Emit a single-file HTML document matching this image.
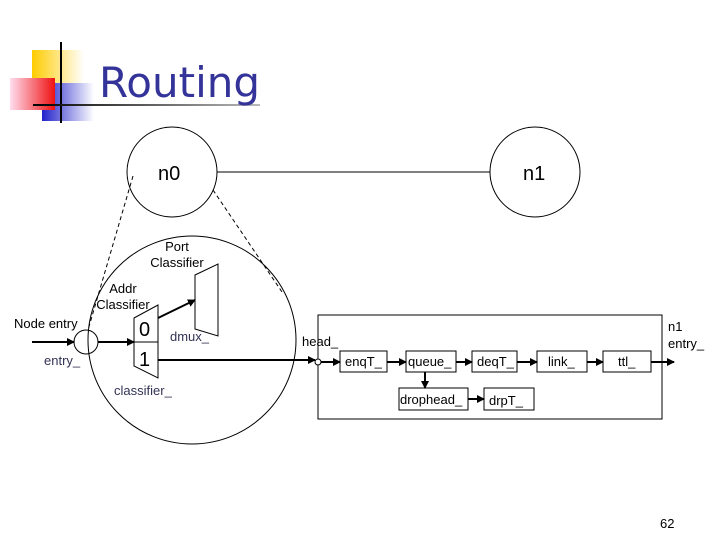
<!DOCTYPE html>
<html><head><style>
body{margin:0;width:720px;height:540px;background:#fff;overflow:hidden}
</style></head><body>
<svg width="720" height="540" xmlns="http://www.w3.org/2000/svg" font-family="Liberation Sans, sans-serif">
<defs>
<linearGradient id="gy" x1="0" x2="1"><stop offset="0" stop-color="#ffcc00"/><stop offset="1" stop-color="#fff"/></linearGradient>
<linearGradient id="gr" x1="1" x2="0"><stop offset="0" stop-color="#ee1111"/><stop offset="1" stop-color="#fde"/></linearGradient>
<linearGradient id="gb" x1="0" x2="1"><stop offset="0" stop-color="#2222cc"/><stop offset="1" stop-color="#fff"/></linearGradient>
<linearGradient id="gl" x1="0" x2="1"><stop offset="0" stop-color="#000"/><stop offset="1" stop-color="#bbb"/></linearGradient>
<marker id="a" markerWidth="8" markerHeight="8" refX="7" refY="4" orient="auto" markerUnits="userSpaceOnUse"><path d="M0,0 L8,4 L0,8z" fill="#000"/></marker>
</defs>
<rect x="32" y="50" width="52" height="46" fill="url(#gy)"/>
<rect x="42" y="83" width="52" height="38" fill="url(#gb)"/>
<rect x="10" y="78" width="45" height="32" fill="url(#gr)"/>
<line x1="61" y1="42" x2="61" y2="123" stroke="#000" stroke-width="2"/>
<rect x="33" y="104" width="227" height="2" fill="url(#gl)"/>
<text x="99" y="97" font-size="42" fill="#333399" font-family="DejaVu Sans, Liberation Sans, sans-serif">Routing</text>

<g fill="none" stroke="#000" stroke-width="1">
<circle cx="172" cy="172" r="45"/>
<circle cx="535" cy="172" r="45"/>
<line x1="217" y1="172" x2="490" y2="172"/>
<circle cx="192" cy="340" r="104"/>
<line x1="133" y1="176" x2="88" y2="330" stroke-dasharray="4,3"/>
<line x1="213" y1="190" x2="282" y2="292" stroke-dasharray="4,3"/>
<circle cx="86" cy="342" r="12"/>
<polygon points="134,318 158,305 158,378 134,366"/>
<line x1="134" y1="342" x2="158" y2="342"/>
<polygon points="195,275 218,264 218,336 195,329"/>
<rect x="318" y="315" width="344" height="104"/>
<rect x="340" y="351" width="47" height="21"/>
<rect x="406" y="351" width="50" height="21"/>
<rect x="472" y="351" width="45" height="21"/>
<rect x="537" y="351" width="50" height="21"/>
<rect x="603" y="351" width="48" height="21"/>
<rect x="399" y="388" width="69" height="22"/>
<rect x="484" y="388" width="50" height="22"/>
<circle cx="318" cy="362" r="3" fill="#fff"/>
</g>
<g stroke="#000" stroke-width="2" marker-end="url(#a)">
<line x1="32" y1="342" x2="74" y2="342"/>
<line x1="98" y1="342" x2="134" y2="342"/>
<line x1="158" y1="318" x2="195" y2="300"/>
<line x1="158" y1="360" x2="315" y2="360"/>
<line x1="321" y1="362" x2="340" y2="362"/>
<line x1="387" y1="362" x2="406" y2="362"/>
<line x1="456" y1="362" x2="472" y2="362"/>
<line x1="517" y1="362" x2="537" y2="362"/>
<line x1="587" y1="362" x2="603" y2="362"/>
<line x1="651" y1="362" x2="674" y2="362"/>
<line x1="425" y1="372" x2="425" y2="388"/>
<line x1="468" y1="399" x2="484" y2="399"/>
</g>
<g font-size="20" fill="#000">
<text x="158" y="180">n0</text>
<text x="523" y="180">n1</text>
<text x="139" y="336">0</text>
<text x="139" y="366">1</text>
</g>
<g font-size="13" fill="#000">
<text x="177" y="251" text-anchor="middle">Port</text>
<text x="177" y="267" text-anchor="middle">Classifier</text>
<text x="123" y="293" text-anchor="middle">Addr</text>
<text x="123" y="309" text-anchor="middle">Classifier</text>
<text x="14" y="328">Node entry</text>
<text x="302" y="346">head_</text>
<text x="345" y="366">enqT_</text>
<text x="408" y="366">queue_</text>
<text x="477" y="366">deqT_</text>
<text x="548" y="366">link_</text>
<text x="618" y="366">ttl_</text>
<text x="400" y="404">drophead_</text>
<text x="489" y="405">drpT_</text>
<text x="668" y="331">n1</text>
<text x="668" y="348">entry_</text>
<text x="660" y="528">62</text>
</g>
<g font-size="13" fill="#333355">
<text x="44" y="365">entry_</text>
<text x="170" y="341">dmux_</text>
<text x="114" y="395">classifier_</text>
</g>
</svg>
</body></html>
